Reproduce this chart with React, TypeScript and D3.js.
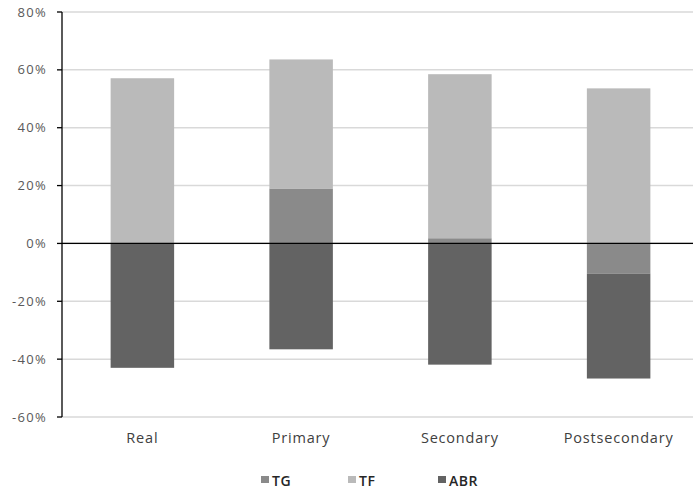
import React from "react";
import * as d3 from "d3";

const categories = ["Real", "Primary", "Secondary", "Postsecondary"];
const seriesKeys = ["TG", "TF", "ABR"];
const tgValues = [0, 0.19, 0.018, -0.104];
const tfValues = [0.571, 0.446, 0.567, 0.536];
const abrValues = [-0.43, -0.366, -0.419, -0.363];
const yTicks = [-0.6, -0.4, -0.2, 0, 0.2, 0.4, 0.6, 0.8];
const colors: Record<string, string> = { TG: "#8a8a8a", TF: "#bababa", ABR: "#636363" };

const W = 693;
const H = 490;

const pct = (t: number) => `${Math.round(t * 100)}%`;

export default function App() {
  const rows = categories.map((c, i) => ({
    cat: c,
    TG: tgValues[i],
    TF: tfValues[i],
    ABR: abrValues[i],
  }));
  const stacked = d3
    .stack<any>()
    .keys(seriesKeys)
    .offset(d3.stackOffsetDiverging)(rows);

  const y = d3.scaleLinear().domain([-0.6, 0.8]).range([417, 12]);
  const x = d3
    .scaleBand<string>()
    .domain(categories)
    .range([63, 698])
    .paddingInner(0.6)
    .paddingOuter(0.3);
  const axisX = 62;
  const font = "'Open Sans', sans-serif";
  const legendX = [261, 348, 438];

  return (
    <svg
      width={W}
      height={H}
      style={{ position: "absolute", left: 0, top: 0, background: "#fff" }}
      fontFamily={font}
    >
      <rect width={W} height={H} fill="#fff" />
      {yTicks.map((t) => (
        <line
          key={"g" + t}
          x1={axisX}
          x2={W}
          y1={y(t)}
          y2={y(t)}
          stroke="#d9d9d9"
          strokeWidth={1.5}
        />
      ))}
      {stacked.map((s) => (
        <g key={s.key} fill={colors[s.key]}>
          {s.map((d, i) => (
            <rect
              key={i}
              x={x(categories[i])}
              width={x.bandwidth()}
              y={y(Math.max(d[0], d[1]))}
              height={Math.abs(y(d[0]) - y(d[1]))}
            />
          ))}
        </g>
      ))}
      <line x1={axisX} x2={W} y1={y(0)} y2={y(0)} stroke="#000" strokeWidth={1.3} />
      <line x1={axisX} x2={axisX} y1={y(0.8)} y2={y(-0.6)} stroke="#000" strokeWidth={1.3} />
      {yTicks.map((t) => (
        <g key={"t" + t}>
          <line x1={axisX - 5} x2={axisX} y1={y(t)} y2={y(t)} stroke="#000" strokeWidth={1.3} />
          <text
            x={47}
            y={y(t)}
            dy="0.35em"
            textAnchor="end"
            fontSize={13}
            letterSpacing={1.3}
            fill="#595959"
          >
            {pct(t)}
          </text>
        </g>
      ))}
      {categories.map((c) => (
        <text
          key={c}
          x={(x(c) as number) + x.bandwidth() / 2}
          y={443}
          textAnchor="middle"
          fontSize={14.5}
          letterSpacing={0.8}
          fill="#404040"
        >
          {c}
        </text>
      ))}
      {seriesKeys.map((k, i) => (
        <g key={k}>
          <rect x={legendX[i]} y={476} width={8} height={7} fill={colors[k]} />
          <text
            x={legendX[i] + 11}
            y={485.5}
            fontSize={14}
            fontWeight={600}
            letterSpacing={0.5}
            fill="#262626"
          >
            {k}
          </text>
        </g>
      ))}
    </svg>
  );
}
